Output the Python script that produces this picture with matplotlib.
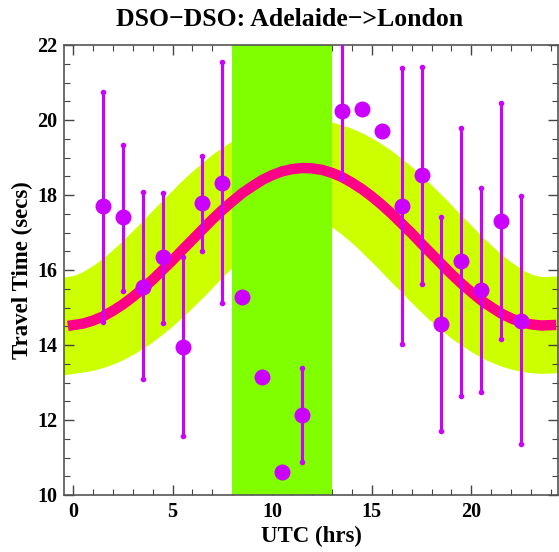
import matplotlib
matplotlib.use('Agg')
import matplotlib.pyplot as plt
import numpy as np
from matplotlib.ticker import MultipleLocator
#-------------------------------
# Data
hours = [1.5, 2.5, 3.5, 4.5, 5.5, 6.5, 7.5, 8.5, 9.5, 10.5, 11.5,
         13.5, 14.5, 15.5, 16.5, 17.5, 18.5, 19.5, 20.5, 21.5, 22.5]
travel = [17.70, 17.41, 15.56, 16.34, 13.96, 17.78, 18.32, 15.27, 13.16, 10.61, 12.13,
          20.24, 20.29, 19.71, 17.70, 18.53, 14.57, 16.23, 15.48, 17.30, 14.65]
# error bar ends (nan = no bar)
err_hi = [20.75, 19.33, 18.07, 18.05, 16.36, 19.04, 21.55, np.nan, np.nan, np.nan, 13.39,
          23.00, np.nan, np.nan, 21.39, 21.42, 17.41, 19.79, 18.18, 20.45, 17.97]
err_lo = [14.61, 15.44, 13.10, 14.60, 11.58, 16.52, 15.11, np.nan, np.nan, np.nan, 10.87,
          18.45, np.nan, np.nan, 14.04, 15.64, 11.71, 12.65, 12.76, 14.17, 11.36]

# fitted model curve, read every half hour
fit_hours = [h/2 for h in range(49)]
fit_vals = [14.53, 14.57, 14.65, 14.76, 14.91, 15.08, 15.28, 15.50, 15.74, 16.00,
            16.26, 16.54, 16.81, 17.08, 17.35, 17.60, 17.83, 18.05, 18.23, 18.40,
            18.53, 18.63, 18.69, 18.72, 18.71, 18.67, 18.59, 18.48, 18.33, 18.16,
            17.96, 17.74, 17.50, 17.24, 16.98, 16.70, 16.43, 16.16, 15.89, 15.64,
            15.41, 15.19, 15.01, 14.84, 14.71, 14.61, 14.55, 14.52, 14.53]
band_half = 1.29          # half width of the band (secs)
window = (8, 13)          # shaded UTC window (hrs)

#-------------------------------
DPI = 100
fig = plt.figure(figsize=(5.59, 5.52), dpi=DPI)
ax = fig.add_axes([64/559, 1-495/552, (558-64)/559, (495-45)/552])
ax.set_xlim(-0.45, 24.35)
ax.set_ylim(10, 22)

# band as a very thick line (thickness in points from data units)
px_per_unit = (495-45)/12.0
band_lw = 2*band_half*px_per_unit*72/DPI
ax.plot(fit_hours, fit_vals, color='#CCFF00', lw=band_lw,
        solid_capstyle='projecting', solid_joinstyle='round', zorder=1)
ax.axvspan(window[0], window[1], color='#80FF00', lw=0, zorder=2)
ax.plot(fit_hours, fit_vals, color='#FF0088', lw=7.5,
        solid_capstyle='projecting', solid_joinstyle='round', zorder=3)

purple = '#CC00FF'
ax.vlines(hours, err_lo, err_hi, color=purple, lw=2.2, zorder=4)
ax.plot(hours, err_lo, 'o', color=purple, ms=4, mew=0, zorder=4)
ax.plot(hours, err_hi, 'o', color=purple, ms=4, mew=0, zorder=4)
ax.plot(hours, travel, 'o', color=purple, ms=11.5, mew=0, zorder=5)

serif = 'Liberation Serif'
ax.xaxis.set_major_locator(MultipleLocator(5))
ax.xaxis.set_minor_locator(MultipleLocator(1))
ax.yaxis.set_major_locator(MultipleLocator(2))
ax.yaxis.set_minor_locator(MultipleLocator(0.5))
ax.tick_params(which='both', direction='in', top=True, right=True, color='#444444')
ax.tick_params(which='major', length=7, width=1, pad=5)
ax.tick_params(which='minor', length=4, width=0.8)
for lab in ax.get_xticklabels() + ax.get_yticklabels():
    lab.set_family(serif)
    lab.set_weight('bold')
    lab.set_fontsize(14.5)
for s in ax.spines.values():
    s.set_color('#555555')
    s.set_linewidth(1.2)

ax.set_xlabel('UTC (hrs)', family=serif, weight='bold', fontsize=16.5, labelpad=3)
ax.set_ylabel('Travel Time (secs)', family=serif, weight='bold', fontsize=16.5, labelpad=3)
fig.text(290/559, 1-20/552, 'DSO\u2212DSO: Adelaide\u2212>London', family=serif,
         weight='bold', fontsize=18.5, ha='center', va='center')

fig.savefig('out.png', dpi=DPI)
